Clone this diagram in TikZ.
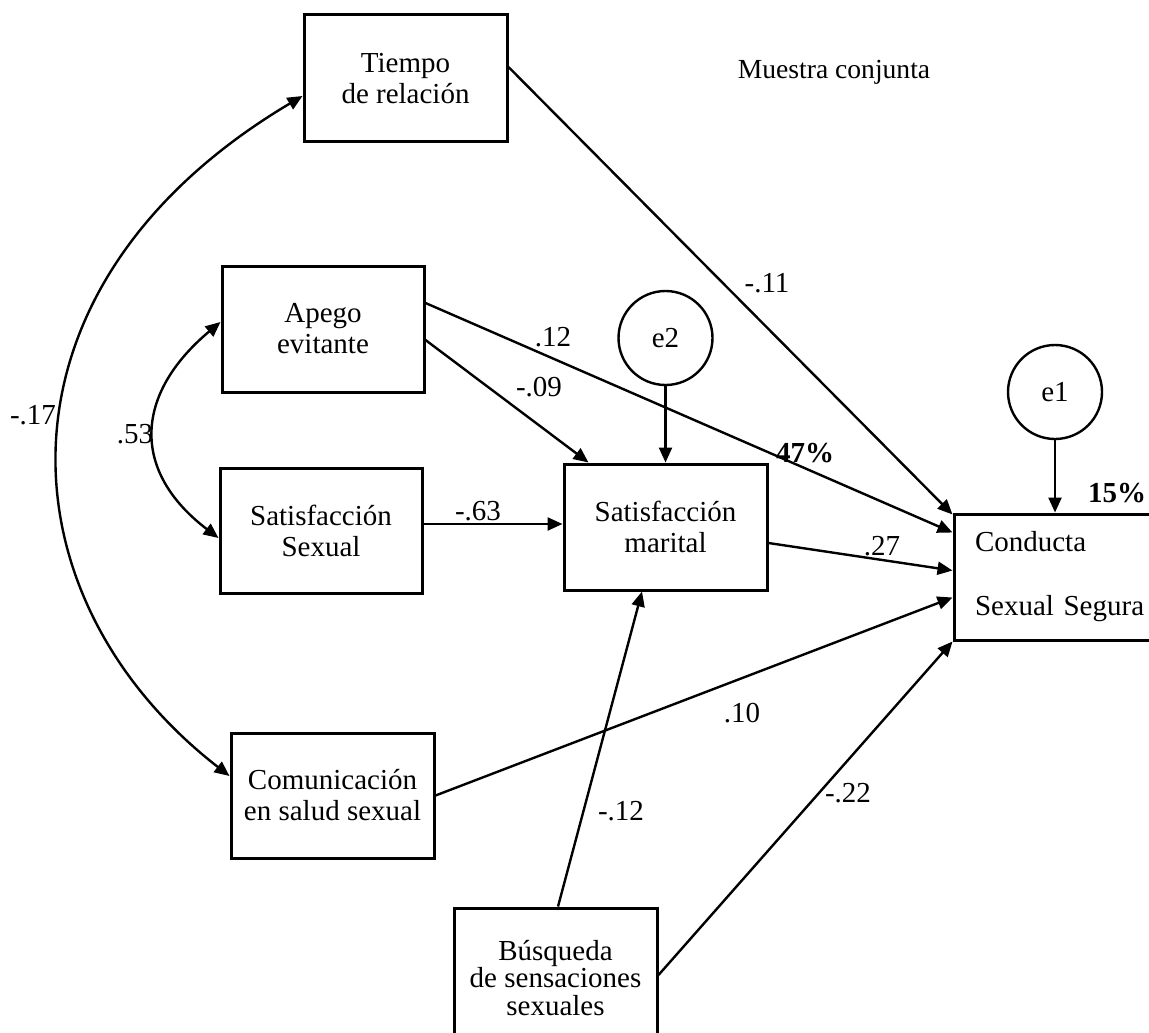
\documentclass[tikz,border=0pt]{standalone}
\usepackage{fontspec}
\setmainfont{Liberation Serif}
\usetikzlibrary{arrows.meta, calc}
\newcommand{\diagfont}{\fontsize{14.5}{15.5}\selectfont}
\tikzset{
  var/.style={rectangle, draw, line width=1.5pt, inner sep=0pt, align=center,
              font=\diagfont},
  err/.style={circle, draw, line width=1.2pt, minimum size=47pt, inner sep=0pt,
              font=\diagfont},
  coef/.style={inner sep=0pt, font=\diagfont},
  rsq/.style={inner sep=0pt, font=\diagfont\bfseries},
  reg/.style={-{Triangle[length=7.5pt, width=6.5pt]}, line width=1.2pt},
  cov/.style={{Triangle[length=7.5pt, width=6.5pt]}-{Triangle[length=7.5pt, width=6.5pt]},
              line width=1.2pt}
}
\begin{document}
\begin{tikzpicture}[x=0.5pt, y=-0.5pt]
  \useasboundingbox (0,0) rectangle (1149,1032);
  % variables
  \node[var, minimum width=101.5pt, minimum height=63.5pt] (tiempo) at (405.5,78.5)
       {Tiempo\\de relación};
  \node[var, minimum width=101pt, minimum height=63pt] (apego) at (323,329)
       {Apego\\evitante};
  \node[var, minimum width=101pt, minimum height=62.5pt] (satsex) at (321,530.5)
       {Satisfacción\\Sexual};
  \node[var, minimum width=101.5pt, minimum height=63pt] (marital) at (665.5,527)
       {Satisfacción\\marital};
  \node[var, minimum height=63pt, text width=88.5pt, inner xsep=10.5pt, align=left,
        font=\fontsize{14.5}{32}\selectfont] (conducta) at (1063.5,577)
       {Conducta\\Sexual Segura};
  \node[var, minimum width=101.5pt, minimum height=62.5pt] (comun) at (332.5,795.5)
       {Comunicación\\en salud sexual};
  \node[var, minimum width=101.5pt, minimum height=70pt,
        font=\fontsize{14.5}{13.8}\selectfont] (busq) at (555.5,978)
       {Búsqueda\\de sensaciones\\sexuales};
  \node[err] (e2) at (665.5,338) {e2};
  \node[err] (e1) at (1055,392) {e1};
  \node[font=\fontsize{13.8}{15}\selectfont, inner sep=0pt] (muestra) at (834,72)
       {Muestra conjunta};

  % paths
  \draw[reg] ([yshift=5.75pt]tiempo.east) -- ([yshift=-1pt]conducta.north west);
  \draw[reg] ([yshift=13pt]apego.east) -- ([yshift=-10pt]conducta.north west);
  \draw[reg] ([yshift=-5.5pt]apego.east) -- ([xshift=13pt]marital.north west);
  \draw[reg] ([yshift=3.25pt]satsex.east) -- ([yshift=1.5pt]marital.west);
  \draw[reg] (e2.south) -- (marital.north);
  \draw[reg] (e1.south) -- (e1.south |- conducta.north);
  \draw[reg] ([yshift=-8pt]marital.east) -- ([yshift=-29pt]conducta.north west);
  \draw[reg] (comun.east) -- ([yshift=-42.5pt]conducta.north west);
  \draw[reg] ([xshift=1.25pt]busq.north) -- ([xshift=-11.75pt]marital.south);
  \draw[reg] ([yshift=1.5pt]busq.east) -- (conducta.south west);

  % covariances
  \draw[cov] ([yshift=-8.75pt]tiempo.west)
    .. controls +(-320,190) and +(-232,-180) .. ([yshift=9.75pt]comun.west);
  \draw[cov] ([yshift=3.5pt]apego.west)
    .. controls +(-86,72) and +(-88,-67) .. ([yshift=-3.75pt]satsex.west);

  % coefficients
  \foreach \x/\y/\t [count=\i] in {767/283/-.11, 553/337/.12, 539/387/-.09,
      478/511/-.63, 882/546/.27, 742/713/.10, 621/811/-.12, 848/793/-.22,
      33/415/-.17, 135/434/.53}
    \node[coef] (c\i) at (\x,\y) {\t};
  \node[rsq] (r2) at (805,453) {47\%};
  \node[rsq] (r1) at (1117,493) {15\%};
\end{tikzpicture}
\end{document}
